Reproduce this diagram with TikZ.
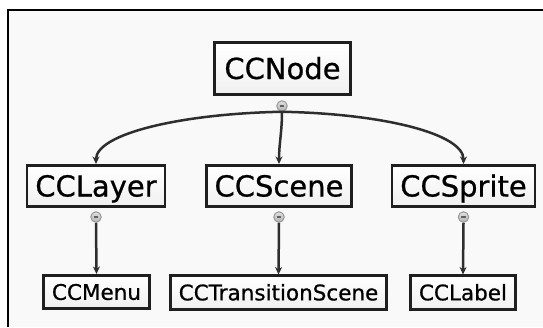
\documentclass[tikz,border=0pt]{standalone}
\usepackage{fontspec}
\setmainfont{DejaVu Sans}
\newfontfamily\boxfont{DejaVu Sans}[FakeBold=0.7]
\usetikzlibrary{arrows.meta}
\definecolor{edgegray}{HTML}{2E2E2E}
\definecolor{panel}{HTML}{F9F9F9}
\tikzset{
  ->/.style={draw=edgegray,line width=2.5pt,-{Stealth[length=7.5pt,width=7pt]}},
  cls/.style={draw=black!88,line width=2.6pt,top color=white,bottom color=black!6,
    text height=21pt,text depth=0pt,inner xsep=8.2pt,font=\boxfont\fontsize{29}{30}\selectfont},
  big/.style={cls,minimum height=52.5pt,inner xsep=10.2pt},
  mid/.style={cls,minimum height=41.5pt},
  small/.style={cls,minimum height=33.5pt,text height=15.7pt,font=\boxfont\fontsize{21.5}{22}\selectfont},
  knob/.style={circle,inner sep=0pt,minimum size=10.5pt,draw=black!40,line width=1pt,
    top color=black!12,bottom color=black!30,
    path picture={\draw[black!62,line width=1.1pt]
      ([xshift=-2.4pt]path picture bounding box.center) -- ([xshift=2.4pt]path picture bounding box.center);}}
}

\begin{document}
\begin{tikzpicture}[x=1pt,y=-1pt]
    \useasboundingbox (0,0) rectangle (543,327);
    \fill[panel] (8,10) rectangle (543,327);
    \draw[line width=2.6pt] (8,327) -- (8,10) -- (543,10);
    \node[big] (A) at (282.5,68.5) {CCNode};
    \node[mid] (B) at (96,186) {CCLayer};
    \node[mid] (C) at (279,186) {CCScene};
    \node[mid] (D) at (463.5,186) {CCSprite};
    \node[small] (E) at (96.5,292) {CCMenu};
    \node[small] (F) at (278.5,292.5) {CCTransitionScene};
    \node[small] (G) at (463,292.5) {CCLabel};
    \node[knob] (a) at (282,106) {};
    \node[knob] (b) at (96,217) {};
    \node[knob] (c) at (279,217) {};
    \node[knob] (d) at (463.5,217) {};
    \draw[->] (a.south) .. controls +(-102,2) and +(0,-30) .. (B.north);
    \draw[->] (a.south) .. controls +(0,20) and +(0,-20) .. (C.north);
    \draw[->] (a.south) .. controls +(102,2) and +(0,-30) .. (D.north);
    \draw[->] (b.south) -- (E.north);
    \draw[->] (c.south) -- (F.north);
    \draw[->] (d.south) -- (G.north);
\end{tikzpicture}
\end{document}
